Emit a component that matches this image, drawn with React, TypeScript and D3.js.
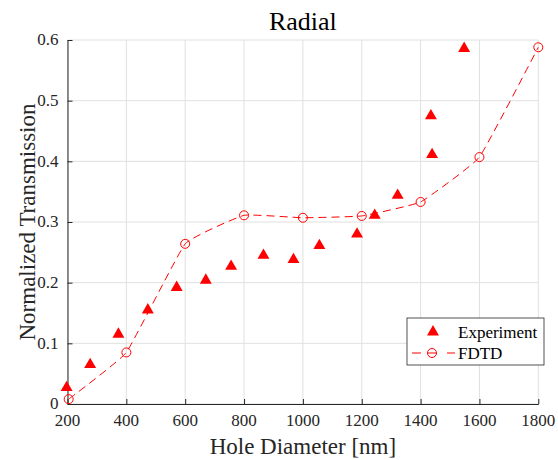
import React, { useRef, useEffect } from 'react';
import * as d3 from 'd3';

// Experiment (triangles)
const expDiameter = [197, 277, 373, 473, 571, 670, 756, 866, 968, 1056, 1184, 1244, 1322, 1439, 1435, 1548];
const expTransmission = [0.027, 0.065, 0.115, 0.155, 0.192, 0.204, 0.227, 0.245, 0.238, 0.261, 0.280, 0.311, 0.344, 0.411, 0.475, 0.586];

// FDTD (circles + dashed curve)
const fdtdDiameter = [204, 400, 600, 800, 1000, 1200, 1400, 1600, 1800];
const fdtdTransmission = [0.008, 0.085, 0.264, 0.311, 0.307, 0.310, 0.333, 0.407, 0.588];

const xTicks = [200, 400, 600, 800, 1000, 1200, 1400, 1600, 1800];
const yTicks = [0, 0.1, 0.2, 0.3, 0.4, 0.5, 0.6];
const yTickLabels = ['0', '0.1', '0.2', '0.3', '0.4', '0.5', '0.6'];

export default function App() {
    const svgRef = useRef<SVGSVGElement>(null);
    const width = 558;
    const height = 460;
    const margin = { top: 40, right: 19.7, bottom: 56, left: 67.5 };

    useEffect(() => {
        const svg = d3.select(svgRef.current);
        svg.selectAll('*').remove();

        const font = "'Liberation Serif', 'Times New Roman', serif";
        const axisColor = '#262626';
        const red = '#ff0000';

        const x = d3.scaleLinear().domain([200, 1800]).range([margin.left, width - margin.right]);
        const y = d3.scaleLinear().domain([0, 0.6]).range([height - margin.bottom, margin.top]);

        // grid
        const grid = svg.append('g').attr('stroke', '#e0e0e0').attr('stroke-width', 1);
        grid.selectAll('line.v')
            .data(xTicks)
            .join('line')
            .attr('class', 'v')
            .attr('x1', d => x(d)).attr('x2', d => x(d))
            .attr('y1', y(0)).attr('y2', y(0.6));
        grid.selectAll('line.h')
            .data(yTicks)
            .join('line')
            .attr('class', 'h')
            .attr('x1', x(200)).attr('x2', x(1800))
            .attr('y1', d => y(d)).attr('y2', d => y(d));

        // axes lines + inward ticks, labels drawn separately
        svg.append('g')
            .attr('transform', `translate(0,${y(0)})`)
            .attr('color', axisColor)
            .call(d3.axisBottom(x).tickValues(xTicks).tickSizeInner(-5).tickSizeOuter(0).tickFormat(() => ''));
        svg.append('g')
            .attr('transform', `translate(${x(200)},0)`)
            .attr('color', axisColor)
            .call(d3.axisLeft(y).tickValues(yTicks).tickSizeInner(-5).tickSizeOuter(0).tickFormat(() => ''));

        svg.append('g')
            .selectAll('text')
            .data(xTicks)
            .join('text')
            .attr('x', d => x(d))
            .attr('y', y(0) + 22)
            .attr('text-anchor', 'middle')
            .attr('font-size', 17)
            .attr('font-family', font)
            .attr('fill', axisColor)
            .text(d => `${d}`);

        svg.append('g')
            .selectAll('text')
            .data(yTicks)
            .join('text')
            .attr('x', x(200) - 9)
            .attr('y', d => y(d))
            .attr('dy', '0.32em')
            .attr('text-anchor', 'end')
            .attr('font-size', 17)
            .attr('font-family', font)
            .attr('fill', axisColor)
            .text((d, i) => yTickLabels[i]);

        // FDTD dashed curve
        const line = d3.line<number>()
            .x((d, i) => x(fdtdDiameter[i]))
            .y(d => y(d))
            .curve(d3.curveCardinal.tension(0.7));
        svg.append('path')
            .datum(fdtdTransmission)
            .attr('fill', 'none')
            .attr('stroke', red)
            .attr('stroke-width', 1)
            .attr('stroke-dasharray', '8,5')
            .attr('d', line);

        // FDTD circles
        svg.append('g')
            .selectAll('circle')
            .data(fdtdTransmission)
            .join('circle')
            .attr('cx', (d, i) => x(fdtdDiameter[i]))
            .attr('cy', d => y(d))
            .attr('r', 4.5)
            .attr('fill', 'none')
            .attr('stroke', red)
            .attr('stroke-width', 1);

        // Experiment triangles
        const tri = d3.symbol().type(d3.symbolTriangle).size(62);
        svg.append('g')
            .selectAll('path')
            .data(expTransmission)
            .join('path')
            .attr('transform', (d, i) => `translate(${x(expDiameter[i])},${y(d)})`)
            .attr('d', tri)
            .attr('fill', red);

        // title and labels
        svg.append('text')
            .attr('x', (x(200) + x(1800)) / 2)
            .attr('y', 30)
            .attr('text-anchor', 'middle')
            .attr('font-size', 26)
            .attr('font-family', font)
            .attr('fill', '#000')
            .text('Radial');

        svg.append('text')
            .attr('x', (x(200) + x(1800)) / 2)
            .attr('y', 454)
            .attr('text-anchor', 'middle')
            .attr('font-size', 23)
            .attr('font-family', font)
            .attr('fill', axisColor)
            .text('Hole Diameter [nm]');

        svg.append('text')
            .attr('transform', `translate(27,${(y(0) + y(0.6)) / 2}) rotate(-90)`)
            .attr('text-anchor', 'middle')
            .attr('dy', '0.35em')
            .attr('font-size', 23)
            .attr('font-family', font)
            .attr('fill', axisColor)
            .text('Normalized Transmission');

        // legend
        const lg = svg.append('g').attr('transform', 'translate(407,318)');
        lg.append('rect')
            .attr('width', 137).attr('height', 47)
            .attr('fill', '#fff')
            .attr('stroke', axisColor)
            .attr('stroke-width', 0.8);
        lg.append('path')
            .attr('transform', 'translate(26,14)')
            .attr('d', tri)
            .attr('fill', red);
        lg.append('text')
            .attr('x', 51).attr('y', 14).attr('dy', '0.35em')
            .attr('font-size', 17).attr('font-family', font).attr('fill', '#000')
            .text('Experiment');
        lg.selectAll('line')
            .data([[5, 14], [21, 29], [40, 48]])
            .join('line')
            .attr('x1', d => d[0]).attr('x2', d => d[1])
            .attr('y1', 35).attr('y2', 35)
            .attr('stroke', red).attr('stroke-width', 1);
        lg.append('circle')
            .attr('cx', 25).attr('cy', 35).attr('r', 4.5)
            .attr('fill', 'none').attr('stroke', red);
        lg.append('text')
            .attr('x', 51).attr('y', 35).attr('dy', '0.35em')
            .attr('font-size', 17).attr('font-family', font).attr('fill', '#000')
            .text('FDTD');
    }, []);

    return <svg ref={svgRef} width={width} height={height} style={{ position: 'absolute', left: 0, top: 0, background: '#fff' }} />;
}
